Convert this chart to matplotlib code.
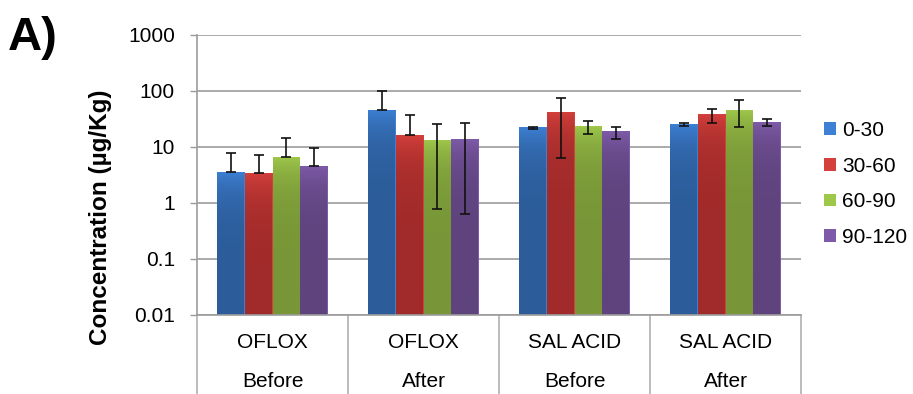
import numpy as np
import matplotlib.pyplot as plt
from matplotlib.colors import LinearSegmentedColormap
from matplotlib.patches import Patch
import matplotlib.transforms as mtransforms

plt.rcParams['font.family'] = ['Liberation Sans', 'DejaVu Sans']

# categories (two-level x axis)
drugs = ['OFLOX', 'OFLOX', 'SAL ACID', 'SAL ACID']
phases = ['Before', 'After', 'Before', 'After']

# depth series
series = ['0-30', '30-60', '60-90', '90-120']
values = {
    '0-30':   [3.6, 45.8, 22.8, 25.7],
    '30-60':  [3.45, 16.4, 42.2, 38.8],
    '60-90':  [6.6, 13.3, 23.7, 45.8],
    '90-120': [4.6, 13.9, 19.3, 27.9],
}
# error bar ends (upper / lower)
err_top = {
    '0-30':   [7.9, 100, 23.2, 26.5],
    '30-60':  [7.3, 37.7, 74, 48.4],
    '60-90':  [14.3, 25.4, 29.5, 68],
    '90-120': [9.5, 26.5, 22.5, 32],
}
err_bot = {
    '0-30':   [3.6, 45.8, 21.3, 23.7],
    '30-60':  [3.45, 16.4, 6.4, 26.5],
    '60-90':  [6.6, 0.78, 16.8, 22.5],
    '90-120': [4.6, 0.64, 13.7, 23.4],
}

# gradient colours (top, bottom) like the Excel bars
colors = {
    '0-30':   ('#3d80d4', '#2c5c99'),
    '30-60':  ('#d4403c', '#a12b2a'),
    '60-90':  ('#9fc84b', '#789637'),
    '90-120': ('#7e5ba8', '#5e437d'),
}

fig = plt.figure(figsize=(9.13, 3.94), dpi=100)
ax = fig.add_axes([197 / 913, 79 / 394, 604 / 913, 280 / 394])

ax.set_yscale('log')
ax.set_ylim(0.01, 1000)
ax.set_xlim(0, len(drugs))

bar_w = 0.185
x = np.arange(len(drugs)) + 0.5
grad = np.linspace(1, 0, 256).reshape(-1, 1)

for j, s in enumerate(series):
    xs = x + (j - 1.5) * bar_w
    vals = np.array(values[s])
    top_c, bot_c = colors[s]
    bars = ax.bar(xs, vals, width=bar_w, bottom=0.01, color=top_c, linewidth=0, zorder=2)
    cmap = LinearSegmentedColormap.from_list(s, [bot_c, top_c])
    for b, v in zip(bars, vals):
        x0 = b.get_x()
        im = ax.imshow(grad, cmap=cmap, aspect='auto', origin='upper',
                       extent=[x0, x0 + bar_w, 0.01, v], zorder=2.5, vmin=0, vmax=1)
        im.set_clip_path(b)
    lo = vals - np.array(err_bot[s])
    hi = np.array(err_top[s]) - vals
    ax.errorbar(xs, vals, yerr=[lo, hi], fmt='none', ecolor='#111111',
                elinewidth=1.2, capsize=3.5, capthick=1.2, zorder=4)

ax.set_xlim(0, len(drugs))
ax.set_ylim(0.01, 1000)

# axes styling
ax.set_yticks([0.01, 0.1, 1, 10, 100, 1000])
ax.set_yticklabels(['0.01', '0.1', '1', '10', '100', '1000'])
ax.minorticks_off()
ax.tick_params(axis='y', length=5, width=1, color='#9a9a9a', pad=11, labelsize=15)
ax.set_xticks([])
ax.grid(axis='y', color='#9c9c9c', linewidth=1.2, zorder=0)
ax.set_axisbelow(True)
for side in ['top', 'right']:
    ax.spines[side].set_visible(False)
for side in ['left', 'bottom']:
    ax.spines[side].set_color('#9c9c9c')
    ax.spines[side].set_linewidth(1.2)

# two-level category labels with dividers
trans = mtransforms.blended_transform_factory(ax.transData, ax.transAxes)
for i in range(len(drugs) + 1):
    ax.plot([i, i], [0, -79 / 280], transform=trans, color='#b0b0b0',
            linewidth=1.2, clip_on=False)
for i, (d, p) in enumerate(zip(drugs, phases)):
    ax.text(i + 0.5, -0.1, d, transform=trans, ha='center', va='center', fontsize=15)
    ax.text(i + 0.5, -0.236, p, transform=trans, ha='center', va='center', fontsize=15)

fig.text(100 / 913, 1 - 217 / 394, 'Concentration (µg/Kg)', rotation=90,
         ha='center', va='center', fontsize=17.5, fontweight='bold')
fig.text(8 / 913, 1 - 50 / 394, 'A)', ha='left', va='baseline',
         fontsize=34, fontweight='bold')

handles = [Patch(facecolor=colors[s][0], label=s) for s in series]
fig.legend(handles=handles, loc='upper left', bbox_to_anchor=(824 / 913, 1 - 121 / 394),
           frameon=False, fontsize=15, handlelength=0.57, handleheight=0.57,
           handletextpad=0.3, labelspacing=0.8, borderpad=0, borderaxespad=0)

fig.savefig('out.png', dpi=100)
